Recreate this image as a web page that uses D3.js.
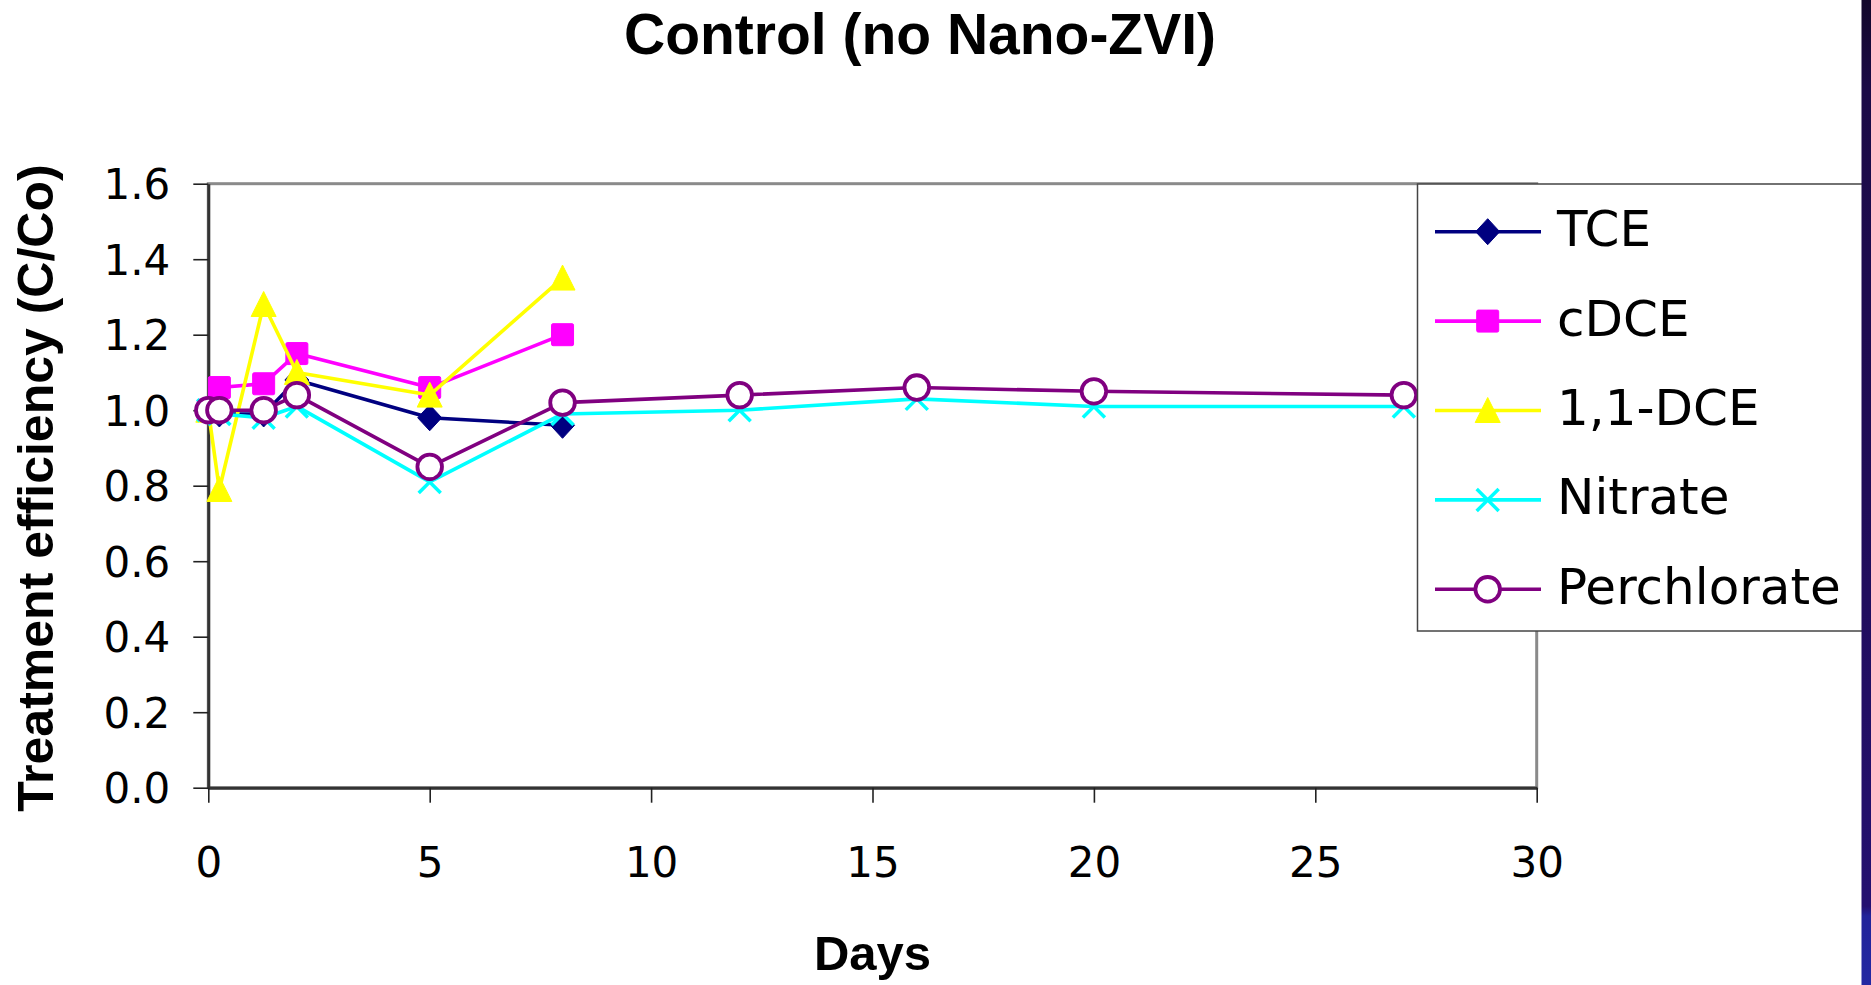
<!DOCTYPE html>
<html>
<head>
<meta charset="utf-8">
<script src="https://cdn.jsdelivr.net/npm/d3@7"></script>
<style>
  html, body { margin: 0; padding: 0; background: #fff; }
  svg { display: block; }
</style>
</head>
<body>
<svg id="chart" width="1871" height="985"></svg>
<script>
// Sampling days and normalised concentrations (C/Co) for each analyte
const days = [0, 0.25, 1.25, 2, 5, 8, 12, 16, 20, 27];
const tce = [1.00, 0.99, 0.99, 1.08, 0.98, 0.96];
const cdce = [1.00, 1.06, 1.07, 1.15, 1.06, 1.20];
const dce11 = [1.00, 0.79, 1.28, 1.10, 1.04, 1.35];
const nitrate = [1.00, 0.99, 0.98, 1.01, 0.81, 0.99, 1.00, 1.03, 1.01, 1.01];
const perchlorate = [1.00, 1.00, 1.00, 1.04, 0.85, 1.02, 1.04, 1.06, 1.05, 1.04];

const seriesNames = ["TCE", "cDCE", "1,1-DCE", "Nitrate", "Perchlorate"];
const xTicks = [0, 5, 10, 15, 20, 25, 30];
const yTicks = [0, 0.2, 0.4, 0.6, 0.8, 1.0, 1.2, 1.4, 1.6];

const series = [
  { name: seriesNames[0], values: tce, color: "#000080", marker: "diamond" },
  { name: seriesNames[1], values: cdce, color: "#ff00ff", marker: "square" },
  { name: seriesNames[2], values: dce11, color: "#ffff00", marker: "triangle" },
  { name: seriesNames[3], values: nitrate, color: "#00ffff", marker: "cross" },
  { name: seriesNames[4], values: perchlorate, color: "#800080", marker: "circle" }
];

const svg = d3.select("#chart");

// dark presentation strip on the right edge
const defs = svg.append("defs");
const grad = defs.append("linearGradient").attr("id", "strip")
  .attr("x1", 0).attr("y1", 0).attr("x2", 0).attr("y2", 1);
[[0, "#12072a"], [0.09, "#1b0a46"], [0.5, "#200c58"], [0.92, "#241070"], [0.93, "#22239a"], [1, "#2328a2"]]
  .forEach(([o, c]) => grad.append("stop").attr("offset", o).attr("stop-color", c));

const plot = { left: 208.3, right: 1536.7, top: 183.7, bottom: 787.7 };

const x = d3.scaleLinear().domain([0, 30]).range([plot.left, plot.right]);
const y = d3.scaleLinear().domain([0, 1.6]).range([plot.bottom, plot.top]);

// plot area frame
svg.append("rect")
  .attr("x", plot.left).attr("y", plot.top)
  .attr("width", plot.right - plot.left).attr("height", plot.bottom - plot.top)
  .attr("fill", "none").attr("stroke", "#8a8a8a").attr("stroke-width", 3);

const tickFont = "'DejaVu Sans', sans-serif";

// y axis
const yAxis = d3.axisLeft(y).tickValues(yTicks).tickFormat(d3.format(".1f"))
  .tickSizeInner(15).tickSizeOuter(0).tickPadding(23);
const gy = svg.append("g").attr("transform", `translate(${plot.left},0)`).call(yAxis);
gy.select(".domain").attr("stroke", "#333").attr("stroke-width", 3);
gy.selectAll(".tick line").attr("stroke", "#222").attr("stroke-width", 1.6);
gy.selectAll(".tick text").attr("font-family", tickFont).attr("font-size", 42)
  .attr("fill", "#000").attr("dy", "0.36em");

// x axis
const xAxis = d3.axisBottom(x).tickValues(xTicks).tickFormat(d3.format("d"))
  .tickSizeInner(15).tickSizeOuter(0).tickPadding(44);
const gx = svg.append("g").attr("transform", `translate(0,${plot.bottom})`).call(xAxis);
gx.select(".domain").attr("stroke", "#333").attr("stroke-width", 3);
gx.selectAll(".tick line").attr("stroke", "#222").attr("stroke-width", 1.6);
gx.selectAll(".tick text").attr("font-family", tickFont).attr("font-size", 42)
  .attr("fill", "#000");

// titles
svg.append("text")
  .attr("x", 920).attr("y", 54)
  .attr("text-anchor", "middle")
  .attr("font-family", "'Liberation Sans', Arial, sans-serif")
  .attr("font-weight", "bold").attr("font-size", 57)
  .text("Control (no Nano-ZVI)");

svg.append("text")
  .attr("transform", "translate(53,488) rotate(-90)")
  .attr("text-anchor", "middle")
  .attr("font-family", "'Liberation Sans', Arial, sans-serif")
  .attr("font-weight", "bold").attr("font-size", 50)
  .text("Treatment efficiency (C/Co)");

svg.append("text")
  .attr("x", (plot.left + plot.right) / 2).attr("y", 970)
  .attr("text-anchor", "middle")
  .attr("font-family", "'Liberation Sans', Arial, sans-serif")
  .attr("font-weight", "bold").attr("font-size", 49)
  .text("Days");

// marker painter
function drawMarker(g, type, color, cx, cy) {
  if (type === "diamond") {
    g.append("path").attr("d", `M${cx},${cy - 13}L${cx + 12},${cy}L${cx},${cy + 13}L${cx - 12},${cy}Z`)
      .attr("fill", color).attr("stroke", color).attr("stroke-width", 1);
  } else if (type === "square") {
    g.append("rect").attr("x", cx - 11).attr("y", cy - 11).attr("width", 22).attr("height", 22)
      .attr("rx", 1.5).attr("fill", color).attr("stroke", color).attr("stroke-width", 1);
  } else if (type === "triangle") {
    g.append("path").attr("d", `M${cx},${cy - 13}L${cx + 12.5},${cy + 12}L${cx - 12.5},${cy + 12}Z`)
      .attr("fill", color).attr("stroke", color).attr("stroke-width", 1).attr("stroke-linejoin", "round");
  } else if (type === "cross") {
    g.append("path").attr("d", `M${cx - 11},${cy - 11}L${cx + 11},${cy + 11}M${cx + 11},${cy - 11}L${cx - 11},${cy + 11}`)
      .attr("stroke", color).attr("stroke-width", 3.5).attr("fill", "none");
  } else if (type === "circle") {
    g.append("circle").attr("cx", cx).attr("cy", cy).attr("r", 12.3)
      .attr("fill", "#fff").attr("stroke", color).attr("stroke-width", 3.8);
  }
}

const line = d3.line().x(d => x(d[0])).y(d => y(d[1]));

// series lines with markers, later series drawn on top
series.forEach(s => {
  const pts = s.values.map((v, i) => [days[i], v]);
  const g = svg.append("g");
  g.append("path").attr("d", line(pts))
    .attr("fill", "none").attr("stroke", s.color).attr("stroke-width", 3.6)
    .attr("stroke-linejoin", "round");
  pts.forEach(p => drawMarker(g, s.marker, s.color, x(p[0]), y(p[1])));
});

// legend
const legend = svg.append("g");
legend.append("rect")
  .attr("x", 1417.5).attr("y", 184).attr("width", 470).attr("height", 447)
  .attr("fill", "#fff").attr("stroke", "#444").attr("stroke-width", 1.5);
const rowY = d3.scaleLinear().domain([0, 4]).range([231.7, 589.3]);
series.forEach((s, i) => {
  const cy = rowY(i);
  legend.append("line").attr("x1", 1435).attr("x2", 1541).attr("y1", cy).attr("y2", cy)
    .attr("stroke", s.color).attr("stroke-width", 3.6);
  drawMarker(legend, s.marker, s.color, 1487.7, cy);
  legend.append("text").attr("x", 1557).attr("y", cy + 14.5)
    .attr("font-family", tickFont).attr("font-size", 50).attr("fill", "#000")
    .text(s.name);
});

svg.append("rect").attr("x", 1861.5).attr("y", 0).attr("width", 10).attr("height", 985)
  .attr("fill", "url(#strip)");
</script>
</body>
</html>
